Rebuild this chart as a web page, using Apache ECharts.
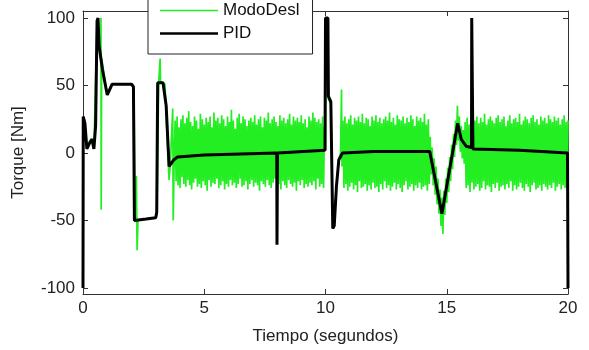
<!DOCTYPE html>
<html>
<head>
<meta charset="utf-8">
<script src="https://cdn.jsdelivr.net/npm/echarts@6/dist/echarts.min.js"></script>
<style>
html,body{margin:0;padding:0;background:#fff;}
#chart{width:589px;height:350px;}
</style>
</head>
<body>
<div id="chart"></div>
<script>
// ---- Data ----
const xTicks = [0, 5, 10, 15, 20];
const yTicks = [-100, -50, 0, 50, 100];
const seriesNames = ['ModoDesl', 'PID'];

// PID (black) : [time, torque]
const pidData = [
  [0,-100],[0.01,27],[0.08,22],[0.16,3],[0.29,8],[0.37,10],[0.45,3],[0.52,20],[0.58,98],[0.62,100],
  [0.66,80],[0.8,62],[1.0,43],[1.1,47],[1.2,51],[1.6,51],[2.0,51],[2.08,49],[2.12,-50],[2.6,-49],
  [3.0,-48],[3.04,-44],[3.08,52],[3.3,52],[3.38,51],[3.43,35],[3.55,-10],[3.75,-5],[3.9,-3],[5,-1.5],
  [7.99,0],[8.0,-68],[8.02,0],[9.98,2],[10.0,100],[10.1,100],[10.12,42],[10.22,38],[10.3,-56],[10.36,-54],
  [10.45,-25],[10.55,-5],[10.7,0],[12,1],[14.3,1],[14.8,-45],[15.45,22],[15.6,10],[15.8,5],[16.02,4],
  [16.03,100],[16.06,100],[16.08,3],[18,2],[19.98,0],[20,-100]
];

// ModoDesl (green) : explicit points in the transitions
const greenStart = [
  [0,0],[0.02,26],[0.08,22],[0.16,3],[0.29,9],[0.37,11],[0.45,3],[0.58,98],[0.66,82],[0.72,70],
  [0.74,100],[0.75,-42],[0.77,70],[1.0,43],[1.1,48],[1.2,51],[2.05,51],[2.1,49],[2.15,-50],[2.2,-17],
  [2.23,-72],[2.27,-50],[3.0,-48],[3.05,-45],[3.12,52],[3.18,70],[3.2,52],[3.38,51],[3.45,20],[3.55,-20],
  [3.6,-8],[3.7,33],[3.72,-50],[3.76,-5]
];
const greenAt10 = [
  [10.0,2],[10.02,95],[10.08,95],[10.12,40],[10.22,36],[10.3,-55],[10.36,-52],[10.45,-24],[10.55,-5],[10.62,0],
  [10.66,47],[10.68,-10]
];

// ModoDesl (green) : sampled stretches, one value every sampleStep seconds
const sampleStep = 0.04;
const noiseAStart = 3.8;
const noiseA = [
  24,-21,27,-24,19,-26,25,-18,28,-23,
  22,-25,26,-20,31,-24,23,-27,20,-22,
  27,-19,24,-25,18,-23,29,-26,25,-21,
  21,-24,26,-28,23,-20,27,-25,19,-22,
  30,-23,24,-19,26,-26,22,-24,28,-21,
  25,-27,20,-23,27,-25,23,-20,32,-24,
  24,-22,18,-26,26,-23,29,-19,22,-25,
  27,-24,25,-21,20,-27,24,-23,26,-20,
  23,-25,28,-22,21,-24,25,-28,27,-21,
  19,-23,26,-25,24,-20,30,-24,22,-26,
  25,-22,27,-19,23,-25,20,-23,28,-27,
  24,-21,26,-24,22,-26,25,-20,29,-23,
  21,-25,27,-22,24,-28,26,-21,23,-24,
  28,-20,22,-26,25,-23,19,-25,27,-22,
  24,-24,30,-21,26,-27,23,-19,25,-25,
  22,-23,27,-26,20
];
const noiseBStart = 10.72;
const noiseB = [
  24,-26,27,-23,22,-28,25,-25,28,-22,
  21,-27,26,-24,24,-29,27,-21,23,-26,
  29,-25,22,-23,26,-28,25,-24,20,-27,
  27,-22,24,-26,28,-25,23,-29,26,-23,
  22,-27,25,-21,27,-26,24,-24,30,-28,
  23,-25,26,-22,21,-27,28,-23,25,-26,
  24,-29,27,-24,22,-21,26,-27,23,-25,
  28,-23,25,-28,20,-24,27,-26,24,-22,
  26,-27,23,-25,29,-24,21,-28,25,-23
];
const dipStart = 14.32;
const dip = [
  12,-16,4,-24,-4,-31,-10,-38,-19,-45,
  -27,-54,-33,-60,-28,-46,-19,-37,-11,-29,
  -3,-21,6,-12,14,-3,24,6,35,9,
  27,1,20,-4,17,-8
];
const noiseCStart = 15.76;
const noiseC = [
  23,-26,26,-24,21,-29,25,-22,28,-27,
  24,-25,27,-23,22,-28,26,-26,23,-21,
  29,-27,21,-24,25,-25,27,-29,24,-23,
  22,-26,26,-22,28,-28,23,-25,25,-24,
  27,-27,20,-23,24,-26,28,-21,22,-28,
  25,-24,26,-27,23,-25,29,-22,21,-26,
  24,-28,27,-23,25,-25,22,-29,26,-24,
  28,-22,23,-27,25,-26,21,-24,27,-28,
  24,-23,26,-25,22,-27,28,-24,25,-26,
  23,-22,27,-28,24,-25,26,-23,21,-27,
  25,-24,28,-26,23,-25,24
];

// ---- Build ----
function sampled(start, vals) {
  return vals.map((v, i) => [+(start + i * sampleStep).toFixed(2), v]);
}
const greenData = [].concat(
  greenStart,
  sampled(noiseAStart, noiseA),
  greenAt10,
  sampled(noiseBStart, noiseB),
  sampled(dipStart, dip),
  sampled(noiseCStart, noiseC)
);

const FONT = '"Liberation Sans", Arial, sans-serif';
const AX = '#333';
const GREEN = '#22ee22';
const chart = echarts.init(document.getElementById('chart'), null, {renderer: 'canvas'});

const xBase = {
  type: 'value', min: 0, max: 20,
  splitLine: {show: false},
  axisLine: {show: true, onZero: false, lineStyle: {color: AX, width: 1}},
  axisTick: {show: true, inside: true, length: 5, lineStyle: {color: AX}, customValues: xTicks}
};
const yBase = {
  type: 'value', min: -104.5, max: 105.2,
  splitLine: {show: false},
  axisLine: {show: true, onZero: false, lineStyle: {color: AX, width: 1}},
  axisTick: {show: true, inside: true, length: 5, lineStyle: {color: AX}, customValues: yTicks}
};

chart.setOption({
  animation: false,
  backgroundColor: '#fff',
  textStyle: {fontFamily: FONT},
  grid: {left: 83, right: 21, top: 11, bottom: 56, containLabel: false, outerBoundsMode: 'none'},
  legend: {
    data: [
      {name: seriesNames[0], icon: 'path://M0,0H58V1.4H0Z', itemStyle: {color: GREEN}},
      {name: seriesNames[1], icon: 'path://M0,0H58V2.6H0Z', itemStyle: {color: '#000'}}
    ],
    orient: 'vertical',
    left: 148, top: -11,
    itemWidth: 58, itemHeight: 14, itemGap: 6,
    symbolKeepAspect: true,
    padding: [13, 13, 12, 12],
    borderColor: '#222', borderWidth: 1, borderRadius: 0,
    backgroundColor: '#fff',
    textStyle: {fontSize: 17, color: '#111', fontFamily: FONT},
    z: 10
  },
  xAxis: [
    Object.assign({}, xBase, {
      position: 'bottom',
      axisLabel: {show: true, customValues: xTicks, fontSize: 17, color: '#222', margin: 6, fontFamily: FONT},
      name: 'Tiempo (segundos)', nameLocation: 'middle', nameGap: 34,
      nameTextStyle: {fontSize: 17, color: '#222', fontFamily: FONT}
    }),
    Object.assign({}, xBase, {
      position: 'top',
      axisLabel: {show: false}
    })
  ],
  yAxis: [
    Object.assign({}, yBase, {
      position: 'left',
      axisLabel: {show: true, customValues: yTicks, fontSize: 17, color: '#222', margin: 8, fontFamily: FONT},
      name: 'Torque [Nm]', nameLocation: 'middle', nameGap: 56,
      nameTextStyle: {fontSize: 17, color: '#222', fontFamily: FONT}
    }),
    Object.assign({}, yBase, {
      position: 'right',
      axisLabel: {show: false}
    })
  ],
  series: [
    {
      name: seriesNames[0], type: 'line', data: greenData,
      xAxisIndex: 0, yAxisIndex: 0,
      symbol: 'none', showSymbol: false,
      lineStyle: {color: GREEN, width: 1.7},
      itemStyle: {color: GREEN},
      z: 2
    },
    {
      name: seriesNames[1], type: 'line', data: pidData,
      xAxisIndex: 0, yAxisIndex: 0,
      symbol: 'none', showSymbol: false,
      lineStyle: {color: '#000', width: 3},
      itemStyle: {color: '#000'},
      z: 3
    }
  ]
});
</script>
</body>
</html>
